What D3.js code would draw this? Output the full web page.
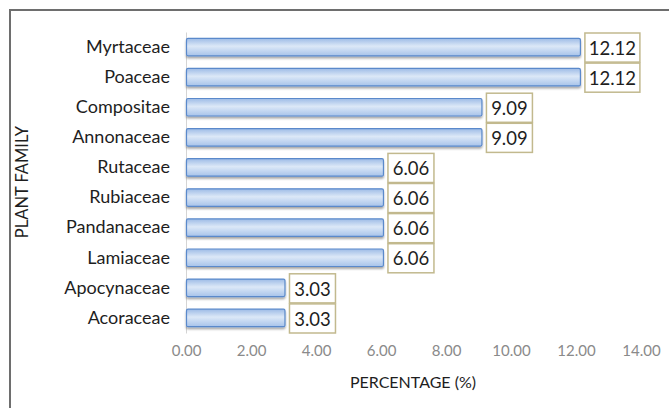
<!DOCTYPE html>
<html>
<head>
<meta charset="utf-8">
<script src="https://cdn.jsdelivr.net/npm/d3@7"></script>
<style>
  html, body { margin: 0; padding: 0; background: #fff; }
  svg { display: block; font-family: Lato, "Open Sans", sans-serif; }
</style>
</head>
<body>
<svg id="chart" width="669" height="408"></svg>
<script>
// === Datos ===
const families = ['Myrtaceae', 'Poaceae', 'Compositae', 'Annonaceae', 'Rutaceae',
  'Rubiaceae', 'Pandanaceae', 'Lamiaceae', 'Apocynaceae', 'Acoraceae'];
const percentages = [12.12, 12.12, 9.09, 9.09, 6.06, 6.06, 6.06, 6.06, 3.03, 3.03];
const xTicks = [0, 2, 4, 6, 8, 10, 12, 14];

const svg = d3.select('#chart');

// marco exterior (solo se ven arriba e izquierda)
svg.append('rect')
  .attr('x', 10).attr('y', 10).attr('width', 700).attr('height', 450)
  .attr('fill', 'none').attr('stroke', '#6e6e6e').attr('stroke-width', 2);

// gradiente de barras
const defs = svg.append('defs');
const grad = defs.append('linearGradient').attr('id', 'barGrad')
  .attr('x1', 0).attr('y1', 0).attr('x2', 0).attr('y2', 1);
grad.append('stop').attr('offset', '0%').attr('stop-color', '#9dbbe6');
grad.append('stop').attr('offset', '45%').attr('stop-color', '#dce8f7');
grad.append('stop').attr('offset', '100%').attr('stop-color', '#a7c3ea');
const shadow = defs.append('filter').attr('id', 'shadow')
  .attr('x', '-5%').attr('y', '-20%').attr('width', '110%').attr('height', '160%');
shadow.append('feDropShadow').attr('dx', 0).attr('dy', 2).attr('stdDeviation', 1.3)
  .attr('flood-color', '#000').attr('flood-opacity', 0.35);

// === Escalas ===
const x = d3.scaleLinear().domain([0, 14]).range([186, 641]);
const y = d3.scaleBand().domain(families).range([32, 333]).paddingInner(0.42).paddingOuter(0.21);
const yBox = d3.scaleBand().domain(families).range([32, 333]);

// eje X (solo etiquetas)
const xAxis = svg.append('g').attr('transform', 'translate(0,333)')
  .call(d3.axisBottom(x).tickValues(xTicks).tickFormat(d3.format('.2f')).tickSize(0).tickPadding(12));
xAxis.select('.domain').remove();
xAxis.selectAll('text').attr('font-size', 15).attr('fill', '#8a8a8a')
  .attr('font-family', 'Lato, "Open Sans", sans-serif');

// eje Y
const yAxis = svg.append('g').attr('transform', `translate(${x(0)},0)`)
  .call(d3.axisLeft(yBox).tickSize(0).tickPadding(16));
yAxis.select('.domain').attr('stroke', '#d4d4d4').attr('stroke-width', 1);
yAxis.selectAll('text').attr('font-size', 18).attr('fill', '#1e1e1e')
  .attr('font-family', 'Lato, "Open Sans", sans-serif');

// barras
svg.append('g').selectAll('rect').data(families).join('rect')
  .attr('x', x(0) + 0.5)
  .attr('y', d => y(d))
  .attr('width', (d, i) => x(percentages[i]) - x(0))
  .attr('height', y.bandwidth())
  .attr('rx', 1.5)
  .attr('fill', 'url(#barGrad)')
  .attr('stroke', '#5a89cb').attr('stroke-width', 1.2)
  .attr('filter', 'url(#shadow)');

// etiquetas de valor en caja
const boxW = v => v >= 10 ? 55 : 46;
const labels = svg.append('g').selectAll('g').data(families).join('g')
  .attr('transform', (d, i) => `translate(${x(percentages[i]) + 5},${yBox(d) + 1})`);
labels.append('rect')
  .attr('width', (d, i) => boxW(percentages[i]))
  .attr('height', yBox.bandwidth() - 1)
  .attr('fill', '#fff').attr('stroke', '#c2b98e').attr('stroke-width', 1.5);
labels.append('text')
  .attr('x', (d, i) => boxW(percentages[i]) / 2)
  .attr('y', yBox.bandwidth() / 2)
  .attr('dy', '0.36em')
  .attr('text-anchor', 'middle')
  .attr('font-size', 18.5).attr('fill', '#1e1e1e')
  .text((d, i) => percentages[i].toFixed(2));

// títulos de ejes
svg.append('text').attr('x', 413).attr('y', 388).attr('text-anchor', 'middle')
  .attr('font-size', 16).attr('fill', '#1e1e1e').text('PERCENTAGE (%)');
svg.append('text').attr('transform', 'translate(28,182) rotate(-90)').attr('text-anchor', 'middle')
  .attr('font-size', 16.5).attr('fill', '#1e1e1e').text('PLANT FAMILY');
</script>
</body>
</html>
